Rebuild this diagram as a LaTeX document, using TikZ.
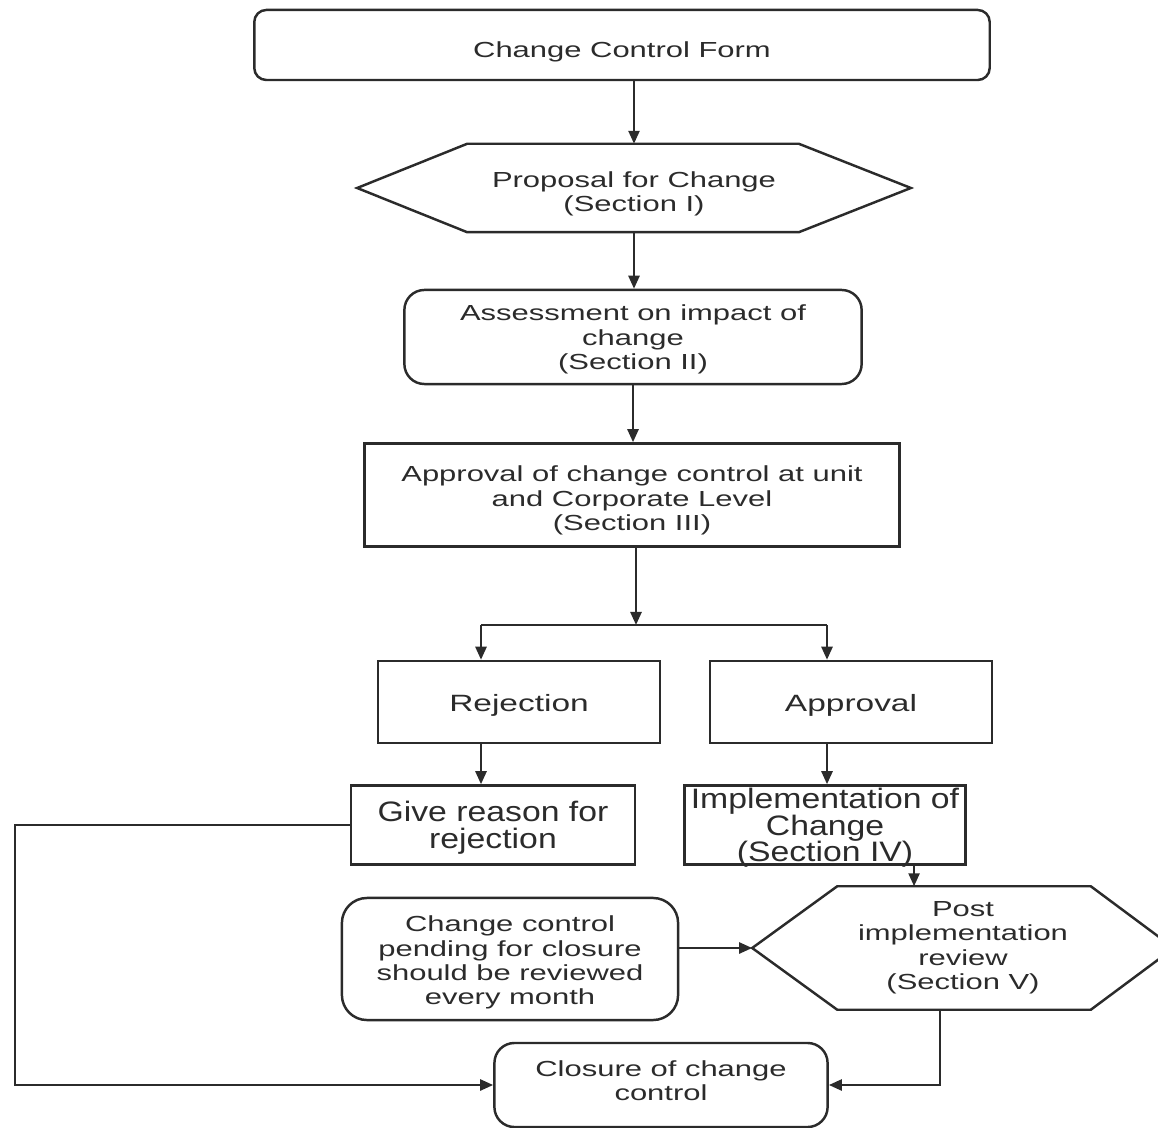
\documentclass[tikz,border=0pt]{standalone}
\usepackage{fontspec}
\setmainfont{Liberation Sans}[FakeStretch=1.42]
\newfontfamily\narrowfont{Liberation Sans}[FakeStretch=1.2]
\usetikzlibrary{arrows.meta}
\definecolor{ink}{HTML}{2B2B2B}
\tikzset{
	change flow/.style={
		x=0.01cm, y=-0.01cm, % one unit is one pixel of the scan
		every node/.style={
			align=center,
			inner sep=0pt,
			text=ink,
			font=\fontsize{6.2}{6.9}\selectfont
		},
		line/.style={draw=ink, line width=0.7pt},
		arrow/.style={
			line,
			-{Triangle[length=0.13cm,width=0.11cm]}
		},
		plain box/.style={draw=ink, line width=0.7pt},
		rounded box/.style={plain box, rounded corners=0.2cm},
		hex field/.style={},% outline drawn by hand below
		big text/.style={font=\narrowfont\fontsize{8}{7.6}\selectfont},
		fork text/.style={font=\fontsize{6.7}{7.5}\selectfont},
		last line/.style={text height=##1, text depth=0pt} % drops the last baseline by half of it
	}
}

\begin{document}
\begin{tikzpicture}[change flow]
	\useasboundingbox (0,0) rectangle (1158,1128);

	% boxes
	\node[rounded box, rounded corners=0.12cm, minimum width=7.35cm, minimum height=0.7cm, last line=7.2pt] (form) at (622,45) {Change Control Form};
	\node[hex field, minimum width=5.52cm, minimum height=0.87cm, last line=13.4pt] (proposal) at (634,188) {Proposal for Change\\(Section I)};
	\draw[line] (proposal.west) -- ([xshift=1.1cm]proposal.north west) -- ([xshift=-1.12cm]proposal.north east)
		-- (proposal.east) -- ([xshift=-1.12cm]proposal.south east) -- ([xshift=1.1cm]proposal.south west) -- cycle;
	\node[rounded box, minimum width=4.57cm, minimum height=0.94cm, last line=18.5pt] (assessment) at (633,337) {Assessment on impact of\\change\\(Section II)};
	\node[plain box, minimum width=5.35cm, minimum height=1.03cm, last line=20.2pt] (approvalunit) at (632,495) {Approval of change control at unit\\and Corporate Level\\(Section III)};
	\node[plain box, fork text, minimum width=2.82cm, minimum height=0.82cm, last line=5.4pt] (rejection) at (519,702) {Rejection};
	\node[plain box, fork text, minimum width=2.82cm, minimum height=0.82cm, last line=5.4pt] (approval) at (851,702) {Approval};
	\node[plain box, big text, minimum width=2.84cm, minimum height=0.79cm, last line=13.1pt] (reason) at (493,825) {Give reason for\\rejection};
	\node[plain box, big text, minimum width=2.81cm, minimum height=0.79cm, last line=21pt] (implementation) at (825,825) {Implementation of\\Change\\(Section IV)};
	\node[rounded box, rounded corners=0.25cm, minimum width=3.36cm, minimum height=1.22cm, last line=25.9pt] (pending) at (510,959) {Change control\\pending for closure\\should be reviewed\\every month};
	\node[hex field, minimum width=4.2cm, minimum height=1.22cm, last line=23.6pt] (review) at (963,948) {Post\\implementation\\review\\(Section V)};
	\draw[line] (review.west) -- ([xshift=0.85cm]review.north west) -- ([xshift=-0.83cm]review.north east)
		-- (review.east) -- ([xshift=-0.83cm]review.south east) -- ([xshift=0.85cm]review.south west) -- cycle;
	\node[rounded box, minimum width=3.33cm, minimum height=0.84cm, last line=8.8pt] (closure) at (661,1085) {Closure of change\\control};

	% connectors
	\coordinate (split) at (636,625);
	\coordinate (left fork) at (481,625);
	\coordinate (right fork) at (827,625);
	\coordinate (down) at ([xshift=0.89cm]implementation.south);
	\coordinate (loop) at (15,825);

	\draw[arrow] (form.south -| proposal.north) -- (proposal.north);
	\draw[arrow] (proposal.south) -- (proposal.south |- assessment.north);
	\draw[arrow] (assessment.south) -- (assessment.south |- approvalunit.north);
	\draw[arrow] (approvalunit.south -| split) -- (split);
	\draw[line] (left fork) -- (right fork);
	\draw[arrow] (left fork) -- (left fork |- rejection.north);
	\draw[arrow] (right fork) -- (right fork |- approval.north);
	\draw[arrow] (left fork |- rejection.south) -- (left fork |- reason.north);
	\draw[arrow] (right fork |- approval.south) -- (right fork |- implementation.north);
	\draw[arrow] (down) -- (down |- review.north);
	\draw[arrow] (pending.east |- review.west) -- (review.west);
	\draw[arrow] (reason.west) -- (loop) |- (closure.west);
	\draw[arrow] ([xshift=-0.23cm]review.south) |- (closure.east);
\end{tikzpicture}
\end{document}
